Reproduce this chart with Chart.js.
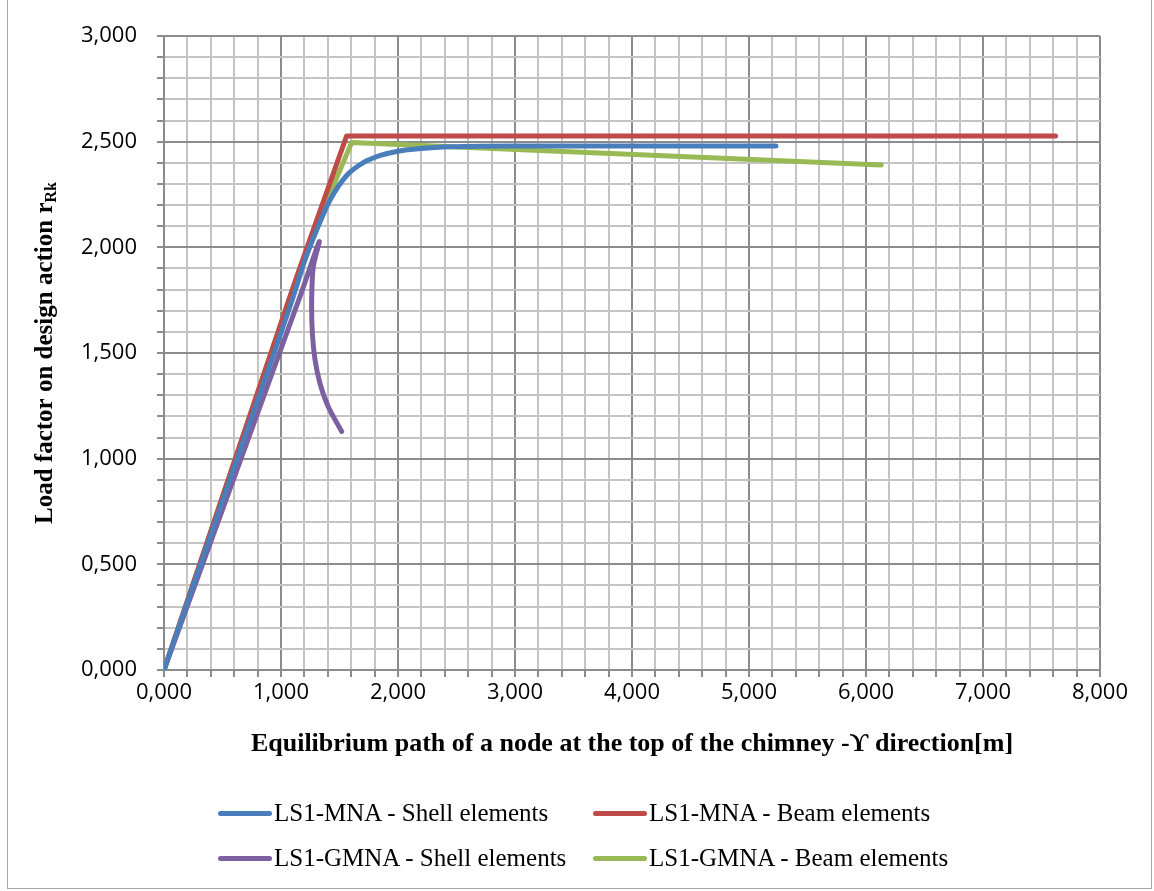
<!DOCTYPE html>
<html>
<head>
<meta charset="utf-8">
<script src="https://cdn.jsdelivr.net/npm/chart.js@4.4.1/dist/chart.umd.min.js"></script>
<style>
  html, body { margin: 0; padding: 0; background: #fff; }
  #wrap { position: relative; width: 1154px; height: 891px; }
  #frame { position: absolute; left: 7px; top: -1px; width: 1143px; height: 888px; border: 1px solid #a6a6a6; }
  #legend { position: absolute; left: 0; top: 0; width: 1154px; height: 891px; pointer-events: none;
            font-family: "Liberation Serif", "DejaVu Serif", serif; font-size: 25px; color: #000; }
  .item { position: absolute; display: flex; align-items: center; white-space: nowrap; }
  .sw { width: 54px; height: 5px; border-radius: 3px; margin-right: 2px; }
</style>
</head>
<body>
<div id="wrap">
  <canvas id="myChart" width="1154" height="891"></canvas>
  <div id="frame"></div>
  <div id="legend"></div>
</div>
<script>
// values (x = displacement [m], y = load factor)
var shellMnaX = [0, 0.55, 1.105, 1.205, 1.305, 1.419, 1.561, 1.70, 1.85, 2.0, 2.2, 2.45, 3.0, 4.0, 5.23];
var shellMnaY = [0, 0.88, 1.767, 1.94, 2.082, 2.224, 2.34, 2.40, 2.435, 2.455, 2.468, 2.476, 2.48, 2.48, 2.48];

var beamMnaX = [0, 1.14, 1.561, 7.62];
var beamMnaY = [0, 1.87, 2.527, 2.527];

var shellGmnaX = [0, 1.162, 1.327, 1.276, 1.262, 1.268, 1.291, 1.333, 1.404, 1.519];
var shellGmnaY = [0, 1.767, 2.027, 1.909, 1.751, 1.594, 1.467, 1.357, 1.246, 1.128];

var beamGmnaX = [0, 1.077, 1.276, 1.604, 6.13];
var beamGmnaY = [0, 1.767, 2.067, 2.496, 2.39];

var seriesNames = ["LS1-MNA - Shell elements", "LS1-MNA - Beam elements",
                   "LS1-GMNA - Shell elements", "LS1-GMNA - Beam elements"];
var seriesColors = ['#4a7ebb', '#be4b48', '#7d60a0', '#98b954'];

var xTicks = [0, 1, 2, 3, 4, 5, 6, 7, 8];
var yTicks = [0, 0.5, 1, 1.5, 2, 2.5, 3];

function pairs(xs, ys) {
  return xs.map(function (x, i) { return { x: x, y: ys[i] }; });
}
function isMajor(v, list) {
  return list.some(function (t) { return Math.abs(t - v) < 1e-6; });
}
function fmt(v) { return v.toFixed(3).replace('.', ','); }

// y title with subscript "Rk"
var yTitlePlugin = {
  id: 'yTitle',
  afterDraw: function (chart) {
    var ctx = chart.ctx, area = chart.chartArea;
    var main = 'Load factor on design action r', sub = 'Rk';
    var big = 'bold 25px "Liberation Serif", "DejaVu Serif", serif';
    var small = 'bold 16px "Liberation Serif", "DejaVu Serif", serif';
    ctx.save();
    ctx.translate(46, (area.top + area.bottom) / 2);
    ctx.rotate(-Math.PI / 2);
    ctx.fillStyle = '#000';
    ctx.textBaseline = 'middle';
    ctx.font = big;
    var w1 = ctx.measureText(main).width;
    ctx.font = small;
    var w2 = ctx.measureText(sub).width;
    var x0 = -(w1 + w2) / 2;
    ctx.font = big;
    ctx.fillText(main, x0, 0);
    ctx.font = small;
    ctx.fillText(sub, x0 + w1, 6);
    ctx.restore();
  }
};

var gridColor = function (list) {
  return function (c) { return isMajor(c.tick.value, list) ? '#8c8c8c' : '#c4c4c4'; };
};

var datasets = [
  { x: shellMnaX, y: shellMnaY, tension: 0.4, mode: 'monotone' },
  { x: beamMnaX, y: beamMnaY, tension: 0 },
  { x: shellGmnaX, y: shellGmnaY, tension: 0.25 },
  { x: beamGmnaX, y: beamGmnaY, tension: 0 }
].map(function (s, i) {
  return {
    label: seriesNames[i],
    data: pairs(s.x, s.y),
    showLine: true,
    borderColor: seriesColors[i],
    backgroundColor: seriesColors[i],
    borderWidth: 5,
    borderCapStyle: 'round',
    borderJoinStyle: 'round',
    pointRadius: 0,
    tension: s.tension,
    cubicInterpolationMode: s.mode || 'default'
  };
});

var ctx = document.getElementById('myChart').getContext('2d');
var chart = new Chart(ctx, {
  type: 'scatter',
  data: { datasets: datasets },
  options: {
    responsive: false,
    animation: false,
    layout: { padding: { top: 36, right: 54, bottom: 131, left: 0 } },
    plugins: { legend: { display: false }, tooltip: { enabled: false } },
    scales: {
      x: {
        type: 'linear', min: 0, max: 8,
        afterFit: function (s) { s.height = 90; },
        ticks: {
          stepSize: 0.2, autoSkip: false, maxRotation: 0, padding: 3, color: '#000',
          font: { family: '"Open Sans", sans-serif', size: 22 },
          callback: function (v) { return isMajor(v, xTicks) ? fmt(v) : ''; }
        },
        grid: { color: gridColor(xTicks), lineWidth: 2, tickLength: 7, tickColor: '#8c8c8c' },
        border: { color: '#8c8c8c', width: 2 },
        title: {
          display: true, color: '#000', padding: { top: 0, bottom: 0 },
          text: 'Equilibrium path of a node at the top of the chimney -\u03D2 direction[m]',
          font: { family: '"Liberation Serif", "DejaVu Serif", serif', size: 26, weight: 'bold' }
        }
      },
      y: {
        type: 'linear', min: 0, max: 3,
        afterFit: function (s) { s.width = 164; },
        ticks: {
          stepSize: 0.1, autoSkip: false, padding: 20, color: '#000',
          font: { family: '"Open Sans", sans-serif', size: 22 },
          callback: function (v) { return isMajor(v, yTicks) ? fmt(v) : ''; }
        },
        grid: { color: gridColor(yTicks), lineWidth: 2, tickLength: 7, tickColor: '#8c8c8c' },
        border: { color: '#8c8c8c', width: 2 }
      }
    }
  },
  plugins: [yTitlePlugin]
});

// legend, two columns like the original
var legendPos = [[218, 813], [593, 813], [218, 858], [593, 858]];
var legendEl = document.getElementById('legend');
chart.data.datasets.forEach(function (ds, i) {
  var item = document.createElement('div');
  item.className = 'item';
  item.style.left = legendPos[i][0] + 'px';
  item.style.top = (legendPos[i][1] - 15) + 'px';
  item.style.height = '30px';
  var sw = document.createElement('span');
  sw.className = 'sw';
  sw.style.background = ds.borderColor;
  var txt = document.createElement('span');
  txt.textContent = ds.label;
  item.appendChild(sw);
  item.appendChild(txt);
  legendEl.appendChild(item);
});
</script>
</body>
</html>
